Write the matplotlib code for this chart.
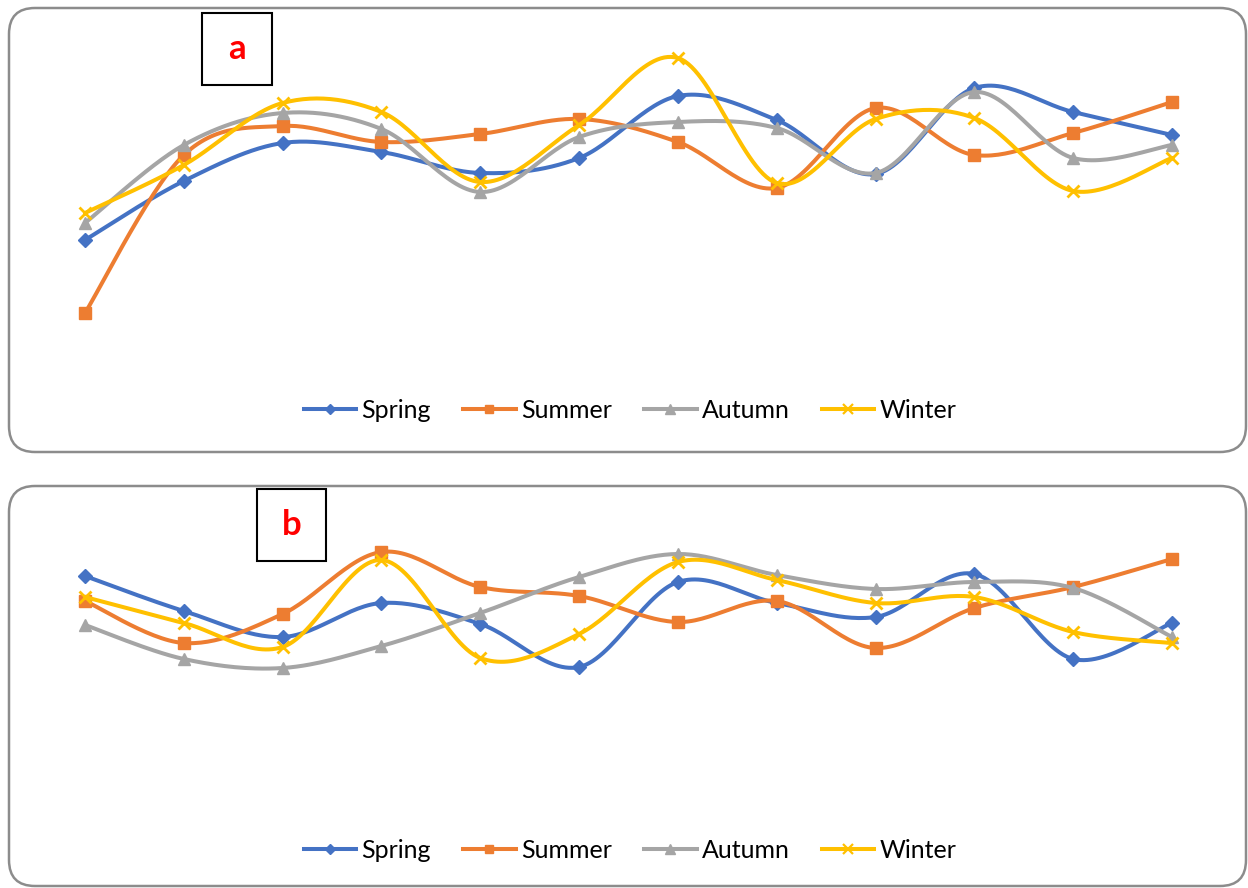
import numpy as np
import matplotlib
matplotlib.use("Agg")
import matplotlib.pyplot as plt
from matplotlib.patches import FancyBboxPatch, Rectangle
from matplotlib.lines import Line2D

plt.rcParams['font.family'] = ['Lato', 'DejaVu Sans']

# ---- data (arbitrary units, 12 points per series) ----
points = list(range(12))
series_names = ["Spring", "Summer", "Autumn", "Winter"]

a_spring = [220, 279, 317, 308, 287, 302, 364, 340, 286, 372, 348, 325]
a_summer = [147, 305, 334, 318, 326, 341, 318, 272, 352, 305, 327, 358]
a_autumn = [237, 315, 347, 331, 268, 323, 338, 332, 287, 368, 302, 315]
a_winter = [247, 295, 357, 348, 278, 335, 402, 277, 341, 342, 269, 302]

b_spring = [124, 89, 63, 97, 76, 33, 118, 97, 83, 126, 41, 77]
b_summer = [99, 57, 86, 148, 113, 104, 78, 99, 52, 92, 113, 141]
b_autumn = [75, 41, 32, 54, 87, 123, 146, 125, 111, 118, 112, 63]
b_winter = [103, 77, 53, 140, 42, 66, 138, 120, 97, 103, 68, 57]

colors = ["#4472C4", "#ED7D31", "#A5A5A5", "#FFC000"]
markers = ["D", "s", "^", "x"]
msizes = [7, 8, 8.5, 9]

W, H = 1248, 888
fig = plt.figure(figsize=(W / 100, H / 100), dpi=100)

# background axes in pixel coordinates
bg = fig.add_axes([0, 0, 1, 1])
bg.set_xlim(0, W)
bg.set_ylim(H, 0)
bg.axis("off")

def panel(y0, y1):
    p = FancyBboxPatch((9, y0), 1237, y1 - y0,
                       boxstyle="round,pad=0,rounding_size=26",
                       fc="white", ec="#8c8c8c", lw=1.8)
    bg.add_patch(p)

panel(8, 452)
panel(486, 886)

def label_box(x0, y0, w, h, txt):
    bg.add_patch(Rectangle((x0, y0), w, h, fc="white", ec="black", lw=1.5))
    bg.text(x0 + w / 2, y0 + h / 2, txt, color="red", fontsize=25,
            fontweight="bold", ha="center", va="center")

label_box(202, 13, 70, 72, "a")
label_box(257, 489, 69, 72, "b")

def smooth(x, y, n=30):
    x = np.asarray(x, float)
    y = np.asarray(y, float)
    xs, ys = [], []
    m = len(x)
    for i in range(m - 1):
        p0 = np.array([x[max(i - 1, 0)], y[max(i - 1, 0)]])
        p1 = np.array([x[i], y[i]])
        p2 = np.array([x[i + 1], y[i + 1]])
        p3 = np.array([x[min(i + 2, m - 1)], y[min(i + 2, m - 1)]])
        c1 = p1 + (p2 - p0) / 6
        c2 = p2 - (p3 - p1) / 6
        t = np.linspace(0, 1, n)[:, None]
        b = ((1 - t) ** 3) * p1 + 3 * ((1 - t) ** 2) * t * c1 + 3 * (1 - t) * t ** 2 * c2 + t ** 3 * p2
        xs.extend(b[:, 0])
        ys.extend(b[:, 1])
    return np.array(xs), np.array(ys)

def data_axes(px_bottom, px_top):
    ax = fig.add_axes([85 / W, 1 - px_bottom / H, (1172 - 85) / W, (px_bottom - px_top) / H])
    ax.set_xlim(0, 11)
    ax.set_ylim(0, px_bottom - px_top)
    ax.axis("off")
    ax.patch.set_alpha(0)
    return ax

def draw(ax, data):
    for vals, c, mk, ms in zip(data, colors, markers, msizes):
        sx, sy = smooth(points, vals)
        ax.plot(sx, sy, color=c, lw=2.9, clip_on=False, solid_capstyle="round",
                solid_joinstyle="round")
        ax.plot(points, vals, linestyle="none", marker=mk, color=c, ms=ms,
                mew=2.0 if mk == "x" else 1, clip_on=False)

ax_a = data_axes(460, 0)
draw(ax_a, [a_spring, a_summer, a_autumn, a_winter])
ax_b = data_axes(700, 480)
draw(ax_b, [b_spring, b_summer, b_autumn, b_winter])

handles = [Line2D([0], [0], color=c, lw=2.9, marker=mk, ms=ms * 0.8,
                  mew=1.6 if mk == "x" else 1)
           for c, mk, ms in zip(colors, markers, msizes)]

for ycen in (410, 850):
    fig.legend(handles, series_names, loc="center", ncol=4,
               bbox_to_anchor=(630 / W, 1 - ycen / H), frameon=False,
               fontsize=18, handlelength=2.1, handletextpad=0.2,
               columnspacing=1.3, numpoints=1)

fig.savefig("out.png", dpi=100)
